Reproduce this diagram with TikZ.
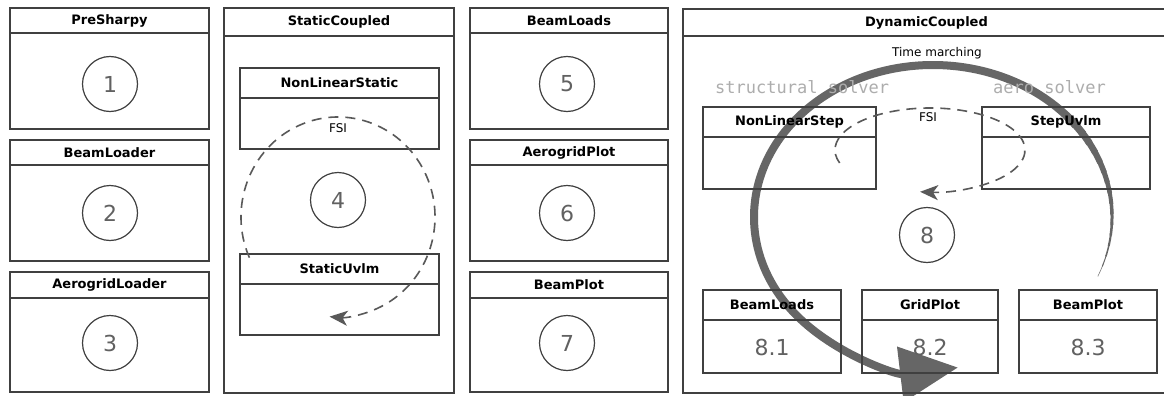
\documentclass[tikz,border=0pt]{standalone}
\usepackage{fontspec}
\setmainfont{DejaVu Sans}
\newfontfamily\monofnt{DejaVu Sans Mono}
\usetikzlibrary{arrows.meta,calc,fit}
\tikzset{
  frame/.style={draw=black!75, line width=1.3pt, inner sep=0pt},
  hdr/.style={font=\fontsize{13}{15}\selectfont\bfseries, inner sep=0pt},
  numc/.style={circle, draw=black!75, line width=1.2pt, minimum size=55pt, inner sep=0pt, text=black!62, font=\fontsize{22}{24}\selectfont},
  val/.style={text=black!62, font=\fontsize{22}{24}\selectfont, inner sep=0pt},
  fsi/.style={draw=black!65, line width=1.6pt, dash pattern=on 10pt off 7pt},
  fsitip/.style={-{Stealth[length=18pt, width=15pt, inset=5pt]}},
  tm/.style={draw=black!60},
  solver/.style={text=black!32, font=\monofnt\fontsize{17}{19}\selectfont, inner sep=0pt, anchor=west},
  small/.style={font=\fontsize{12}{14}\selectfont, inner sep=0pt}
}
\newcommand\panel[7]{%
  \node[frame, fit={(#2,#3) (#4,#5)}] (#1) {};
  \draw[frame] (#2,#6) -- (#4,#6);
  \node[hdr] (#1-t) at ($(#2,#3)!0.5!(#4,#6)$) {#7};
}
\begin{document}
\begin{tikzpicture}[x=1pt, y=-1pt]
\useasboundingbox (0,0) rectangle (1164,396);
\fill[white] (0,0) rectangle (1164,396);
\clip (0,0) rectangle (1164,396);

% Time marching arc (drawn first, beneath)
\coordinate (C) at (933,217);
\foreach \i in {0,...,15} {
  \pgfmathsetmacro\a{23-4*\i}
  \pgfmathsetmacro\b{\a-5}
  \pgfmathsetmacro\w{0.5+7.5*\i/15}
  \draw[tm, line width=\w pt] (C) ++(\a:179 and 152) arc[start angle=\a, end angle=\b, x radius=179, y radius=152];
}
\draw[tm, line width=8pt, -{Triangle[length=58pt, width=54pt]}] (C) ++(-40:179 and 152) arc[start angle=-40, end angle=-278, x radius=179, y radius=152];

% Column 1
\panel{P1}{10}{8}{209}{129}{33}{PreSharpy}
\panel{P2}{10}{140}{209}{261}{165}{BeamLoader}
\panel{P3}{10}{272}{209}{392}{298}{AerogridLoader}
\node[numc] (c1) at (110,84) {1};
\node[numc] (c2) at (110,213) {2};
\node[numc] (c3) at (110,343) {3};

% Column 3
\panel{P5}{470}{8}{668}{129}{33}{BeamLoads}
\panel{P6}{470}{140}{668}{261}{165}{AerogridPlot}
\panel{P7}{470}{272}{668}{392}{298}{BeamPlot}
\node[numc] (c5) at (567,84) {5};
\node[numc] (c6) at (567,213) {6};
\node[numc] (c7) at (567,343) {7};

% StaticCoupled
\panel{S}{224}{8}{454}{393}{36}{StaticCoupled}
\panel{NLS}{240}{68}{439}{149}{98}{NonLinearStatic}
\panel{SU}{240}{254}{439}{335}{284}{StaticUvlm}
\node[numc] (c4) at (338,200) {4};
\coordinate (SC) at (338,217);
\draw[fsi, fsitip] (SC) ++(156:97 and 100) arc[start angle=156, end angle=455, x radius=97, y radius=100];
\node[small] (fsiS) at (338,128) {FSI};

% DynamicCoupled
\panel{D}{683}{9}{1170}{393}{36}{DynamicCoupled}
\node[small] (tmt) at (937,53) {Time marching};
\node[solver] (ss) at (715,87) {structural solver};
\node[solver] (as) at (993,87) {aero solver};
\panel{NLSt}{703}{107}{876}{189}{137}{NonLinearStep}
\panel{SUV}{982}{107}{1150}{189}{137}{StepUvlm}
\coordinate (DC) at (930,150);
\draw[fsi, fsitip] (DC) ++(162:95 and 42) arc[start angle=162, end angle=456, x radius=95, y radius=42];
\node[small] (fsiD) at (928,117) {FSI};
\node[numc] (c8) at (927,235) {8};
\panel{BL}{703}{290}{841}{373}{320}{BeamLoads}
\panel{GP}{862}{290}{998}{373}{320}{GridPlot}
\panel{BP}{1019}{290}{1157}{373}{320}{BeamPlot}
\node[val] (v1) at (772,347) {8.1};
\node[val] (v2) at (930,347) {8.2};
\node[val] (v3) at (1088,347) {8.3};
\end{tikzpicture}
\end{document}
